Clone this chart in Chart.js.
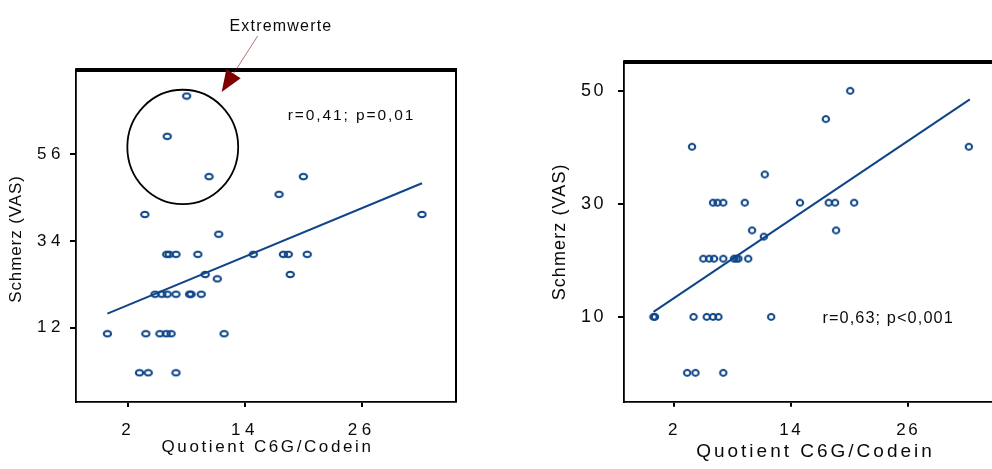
<!DOCTYPE html>
<html lang="de">
<head>
<meta charset="utf-8">
<title>Schmerz (VAS) und Quotient C6G/Codein</title>
<script src="https://cdn.jsdelivr.net/npm/chart.js@4.4.1/dist/chart.umd.min.js"></script>
<style>
  html, body { margin: 0; padding: 0; background: #fff; overflow: hidden; }
  body { width: 992px; height: 469px; position: relative; }
  canvas { position: absolute; top: 0; }
  #links { left: 0; }
  #rechts { left: 530px; }
</style>
</head>
<body>
<canvas id="links" width="470" height="469"></canvas>
<canvas id="rechts" width="480" height="469"></canvas>
<script>
// linkes Diagramm
var linksX = [8.0, 6.0, 10.3, 3.7, 11.3, 17.5, 20.0, 32.2,
              5.95, 6.2, 6.9, 9.15, 14.85, 17.95, 18.45, 20.4,
              18.65, 9.9, 11.15,
              4.75, 5.45, 6.0, 6.9, 8.3, 8.45, 9.5,
              -0.15, 3.8, 5.25, 5.9, 6.4, 11.85,
              3.15, 4.05, 6.9];
var linksY = [70.7, 60.5, 50.3, 40.7, 35.7, 45.8, 50.3, 40.7,
              30.6, 30.6, 30.6, 30.6, 30.6, 30.6, 30.6, 30.6,
              25.5, 25.5, 24.4,
              20.5, 20.5, 20.5, 20.5, 20.5, 20.5, 20.5,
              10.5, 10.5, 10.5, 10.5, 10.5, 10.5,
              0.6, 0.6, 0.6];
var linksFitX = [-0.15, 32.2];
var linksFitY = [15.6, 48.6];
var linksYTicks = [12, 34, 56];

// rechtes Diagramm
var rechtsX = [20.05, 17.55, 3.85, 32.2, 11.3,
               6.0, 6.45, 7.05, 9.25, 14.9, 17.85, 18.5, 20.45,
               10.0, 18.6, 11.2,
               5.0, 5.6, 6.1, 7.05, 8.15, 8.4, 8.6, 9.6,
               -0.1, 0.05, 4.0, 5.35, 6.0, 6.55, 11.95,
               3.35, 4.2, 7.05];
var rechtsY = [50.1, 45.1, 40.2, 40.2, 35.3,
               30.3, 30.3, 30.3, 30.3, 30.3, 30.3, 30.3, 30.3,
               25.4, 25.4, 24.3,
               20.4, 20.4, 20.4, 20.4, 20.4, 20.4, 20.4, 20.4,
               10.1, 10.1, 10.1, 10.1, 10.1, 10.1, 10.1,
               0.2, 0.2, 0.2];
var rechtsFitX = [-0.1, 32.3];
var rechtsFitY = [11.0, 48.6];
var rechtsYTicks = [10, 30, 50];

var xTicks = [2, 14, 26];

var blau = '#0f4588';
var schrift = '"Liberation Sans", Arial, Helvetica, sans-serif';

function punkte(xs, ys) {
  return xs.map(function(x, i) { return { x: x, y: ys[i] }; });
}

// offene Kreise / Ellipsen als Punktsymbol
function symbol(w, h, rx, ry) {
  var c = document.createElement('canvas');
  c.width = w; c.height = h;
  var g = c.getContext('2d');
  g.strokeStyle = blau;
  g.lineWidth = 2;
  g.beginPath();
  g.ellipse(w / 2, h / 2, rx, ry, 0, 0, Math.PI * 2);
  g.stroke();
  return c;
}

function text(ctx, t, x, y, font, abstand, align, baseline, rot) {
  ctx.save();
  ctx.letterSpacing = abstand + 'px';
  ctx.font = font;
  ctx.fillStyle = '#0a0a0a';
  ctx.textAlign = align;
  ctx.textBaseline = baseline;
  ctx.translate(x, y);
  if (rot) ctx.rotate(rot);
  ctx.fillText(t, 0, 0);
  ctx.restore();
}

// Rahmen, Achsentitel und Beschriftungen
var rahmen = {
  id: 'rahmen',
  beforeDraw: function(chart, args, o) {
    chart.ctx.letterSpacing = o.tickAbstand + 'px';
  },
  afterDraw: function(chart, args, o) {
    var ctx = chart.ctx, a = chart.chartArea;
    ctx.letterSpacing = '0px';
    ctx.save();
    ctx.strokeStyle = '#000';
    ctx.lineWidth = 4;
    ctx.beginPath();
    ctx.moveTo(a.left - 0.75, a.top);
    ctx.lineTo(a.right + 1, a.top);
    ctx.stroke();
    if (o.rechterRand) {
      ctx.lineWidth = 2;
      ctx.beginPath();
      ctx.moveTo(a.right, a.top);
      ctx.lineTo(a.right, a.bottom);
      ctx.stroke();
    }
    ctx.restore();
    var mitte = (a.top + a.bottom) / 2;
    text(ctx, 'Schmerz (VAS)', o.yTitelX, mitte + o.yTitelDy, o.yTitelFont + 'px ' + schrift,
         o.yTitelAbstand, 'center', 'middle', -Math.PI / 2);
    text(ctx, 'Quotient C6G/Codein', (a.left + a.right) / 2 + 1.5, o.xTitelY, o.xTitelFont + 'px ' + schrift,
         o.xTitelAbstand, 'center', 'alphabetic');
    var sx = chart.scales.x, sy = chart.scales.y;
    text(ctx, o.stat, sx.getPixelForValue(o.statPos[0]), sy.getPixelForValue(o.statPos[1]),
         o.statFont + 'px ' + schrift, o.statAbstand, 'left', 'alphabetic');
    if (o.extrem) {
      var e = o.extrem;
      var cx = sx.getPixelForValue(e.kreis[0]), cy = sy.getPixelForValue(e.kreis[1]);
      var rx = sx.getPixelForValue(e.kreis[0] + e.kreis[2]) - cx;
      var ry = cy - sy.getPixelForValue(e.kreis[1] + e.kreis[3]);
      ctx.save();
      ctx.strokeStyle = '#000';
      ctx.lineWidth = 1.8;
      ctx.beginPath();
      ctx.ellipse(cx, cy, rx, ry, 0, 0, Math.PI * 2);
      ctx.stroke();
      // Pfeil
      var x0 = sx.getPixelForValue(e.pfeilVon[0]), y0 = sy.getPixelForValue(e.pfeilVon[1]);
      var x1 = sx.getPixelForValue(e.pfeilBis[0]), y1 = sy.getPixelForValue(e.pfeilBis[1]);
      var w = Math.atan2(y1 - y0, x1 - x0), len = 22, hb = 8.5;
      var bx = x1 - len * Math.cos(w), by = y1 - len * Math.sin(w);
      ctx.strokeStyle = 'rgba(128,0,0,0.55)';
      ctx.lineWidth = 1;
      ctx.beginPath();
      ctx.moveTo(x0, y0);
      ctx.lineTo(bx, by);
      ctx.stroke();
      ctx.fillStyle = '#7d0000';
      ctx.beginPath();
      ctx.moveTo(x1, y1);
      ctx.lineTo(bx + hb * Math.sin(w), by - hb * Math.cos(w));
      ctx.lineTo(bx - hb * Math.sin(w), by + hb * Math.cos(w));
      ctx.closePath();
      ctx.fill();
      ctx.restore();
      text(ctx, 'Extremwerte', sx.getPixelForValue(e.text[0]), sy.getPixelForValue(e.text[1]),
           '16px ' + schrift, 1.2, 'center', 'alphabetic');
    }
  }
};

function diagramm(id, o) {
  return new Chart(document.getElementById(id), {
    type: 'scatter',
    data: {
      datasets: [{
        data: punkte(o.xs, o.ys),
        pointStyle: o.symbol,
        pointRadius: 4,
        pointHoverRadius: 4
      }, {
        data: punkte(o.fitX, o.fitY),
        showLine: true,
        borderColor: blau,
        borderWidth: 2,
        pointRadius: 0,
        fill: false
      }]
    },
    options: {
      responsive: false,
      animation: false,
      events: [],
      layout: { padding: { top: o.oben, right: o.rechts, left: 0, bottom: 0 } },
      plugins: { legend: { display: false }, tooltip: { enabled: false }, rahmen: o.rahmen },
      scales: {
        x: {
          type: 'linear',
          min: o.xMin, max: o.xMax,
          afterFit: function(s) { s.height = o.xHoehe; },
          afterBuildTicks: function(s) { s.ticks = xTicks.map(function(v) { return { value: v }; }); },
          ticks: { color: '#0a0a0a', font: { family: schrift, size: 17 }, padding: o.xPad, maxRotation: 0, autoSkip: false },
          grid: { drawOnChartArea: false, color: '#000', lineWidth: 2, tickLength: 5 },
          border: { color: '#000', width: 1.8 }
        },
        y: {
          type: 'linear',
          min: o.yMin, max: o.yMax,
          afterFit: function(s) { s.width = o.yBreite; },
          afterBuildTicks: function(s) { s.ticks = o.yTicks.map(function(v) { return { value: v }; }); },
          ticks: { color: '#0a0a0a', font: { family: schrift, size: o.yTickFont }, padding: o.yPad, autoSkip: false },
          grid: { drawOnChartArea: false, color: '#000', lineWidth: 2, tickLength: 6 },
          border: { color: '#000', width: 1.8 }
        }
      }
    },
    plugins: [rahmen]
  });
}

diagramm('links', {
  xs: linksX, ys: linksY, fitX: linksFitX, fitY: linksFitY, yTicks: linksYTicks,
  symbol: symbol(11, 9, 3.7, 2.7),
  xMin: -3.38, xMax: 35.7, yMin: -6.8, yMax: 77.3,
  oben: 70, rechts: 14, xHoehe: 67, yBreite: 76, xPad: 13, yPad: 5, yTickFont: 17,
  rahmen: {
    tickAbstand: 4.5, rechterRand: true,
    yTitelX: 16.5, yTitelDy: 3, yTitelFont: 17, yTitelAbstand: 0.9,
    xTitelY: 452, xTitelFont: 17, xTitelAbstand: 2.6,
    stat: 'r=0,41; p=0,01', statPos: [18.4, 64.6], statFont: 15.5, statAbstand: 1.9,
    extrem: {
      kreis: [7.6, 57.8, 5.7, 14.5],
      pfeilVon: [15.3, 85.9], pfeilBis: [11.6, 71.7],
      text: [17.7, 87.2]
    }
  }
});

diagramm('rechts', {
  xs: rechtsX, ys: rechtsY, fitX: rechtsFitX, fitY: rechtsFitY, yTicks: rechtsYTicks,
  symbol: symbol(10, 10, 3.2, 3.0),
  xMin: -3.12, xMax: 35.8, yMin: -4.9, yMax: 55.2,
  oben: 62, rechts: 6, xHoehe: 67.3, yBreite: 94, xPad: 13, yPad: 12, yTickFont: 18,
  rahmen: {
    tickAbstand: 2.5, rechterRand: false,
    yTitelX: 30, yTitelDy: 0, yTitelFont: 18, yTitelAbstand: 1.1,
    xTitelY: 457, xTitelFont: 19, xTitelAbstand: 3,
    stat: 'r=0,63; p<0,001', statPos: [17.2, 9.1], statFont: 16.3, statAbstand: 1.1
  }
});
</script>
</body>
</html>
